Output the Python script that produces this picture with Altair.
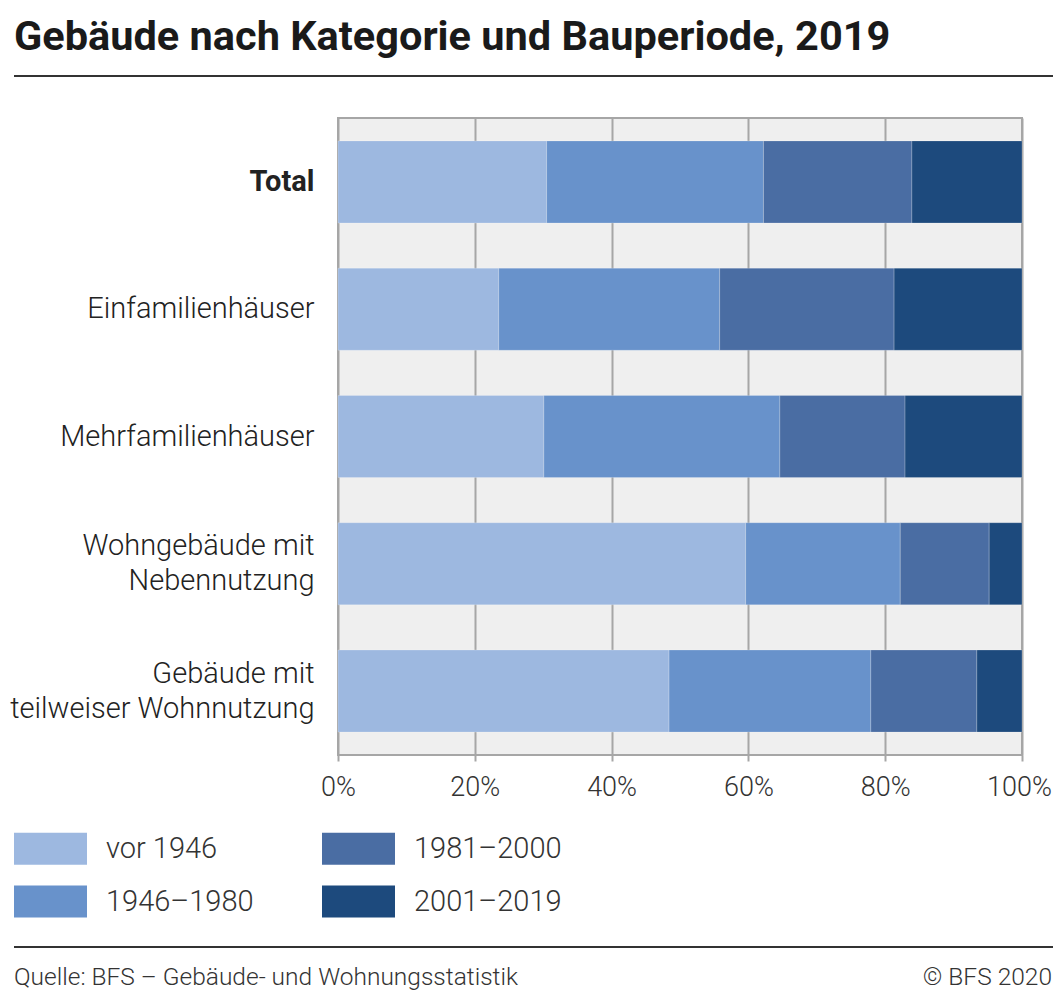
import altair as alt
import pandas as pd

categories = ["Total", "Einfamilienhäuser", "Mehrfamilienhäuser",
              "Wohngebäude mit|Nebennutzung", "Gebäude mit|teilweiser Wohnnutzung"]
periods = ["vor 1946", "1946–1980", "1981–2000", "2001–2019"]
vor_1946 = [30.5, 23.5, 30.1, 59.6, 48.4]
p1946_1980 = [31.7, 32.3, 34.5, 22.6, 29.5]
p1981_2000 = [21.7, 25.5, 18.3, 13.0, 15.5]
p2001_2019 = [16.1, 18.7, 17.1, 4.8, 6.6]
colors = ["#9db8e0", "#6892cb", "#4a6da3", "#1d4a7d"]
x_ticks = [0, 20, 40, 60, 80, 100]
title_text = "Gebäude nach Kategorie und Bauperiode, 2019"
source_text = "Quelle: BFS – Gebäude- und Wohnungsstatistik"
copyright_text = "© BFS 2020"

series = [vor_1946, p1946_1980, p1981_2000, p2001_2019]
rows = []
for pi, (p, vals) in enumerate(zip(periods, series)):
    for c, v in zip(categories, vals):
        rows.append({"Kategorie": c, "Periode": p, "Wert": v, "ord": pi})
df = pd.DataFrame(rows)

FONT = "Roboto"
TXT = "#333333"

bars = alt.Chart(df).mark_bar(stroke="#ffffff", strokeWidth=0.6, strokeOpacity=0.35).encode(
    x=alt.X("Wert:Q", stack="zero",
            scale=alt.Scale(domain=[0, 100], nice=False),
            axis=alt.Axis(values=x_ticks, labelExpr="datum.value + '%'", title=None,
                          grid=True, gridColor="#a6a6a6", gridWidth=2,
                          tickColor="#a6a6a6", tickWidth=2, tickSize=6,
                          domain=False, labelFontSize=27, labelColor=TXT,
                          labelFont=FONT, labelFontWeight=300, labelPadding=13,
                          labelOffset={"condition": {"test": "datum.value === 100", "value": -3},
                                       "value": 0},
                          labelFlush=False)),
    y=alt.Y("Kategorie:N", sort=categories,
            scale=alt.Scale(paddingInner=0.355, paddingOuter=0.18),
            axis=alt.Axis(title=None, ticks=False, domain=False, grid=False,
                          labelExpr="split(datum.label, '|')",
                          labelFontSize=29, labelPadding=24, labelLineHeight=35,
                          labelFont=FONT, labelColor="#222222", labelLimit=0,
                          labelOffset={"condition": {"test": "indexof(datum.value, '|') >= 0", "value": -17.5},
                                       "value": 0},
                          labelFontWeight={"condition": {"test": "datum.value === 'Total'", "value": "bold"},
                                           "value": 300})),
    color=alt.Color("Periode:N",
                    scale=alt.Scale(domain=periods, range=colors),
                    legend=alt.Legend(orient="none", legendX=-324, legendY=694, title=None,
                                      columns=2, symbolType="M-1,-0.438H1V0.438H-1Z",
                                      symbolSize=5329, labelFontSize=29, labelOffset=19,
                                      rowPadding=-9, columnPadding=68, labelFont=FONT,
                                      labelFontWeight=300, labelColor=TXT,
                                      symbolStrokeWidth=0, symbolOpacity=1)),
    order=alt.Order("ord:Q", sort="ascending"),
)

title_df = pd.DataFrame({"t": [title_text]})
title = alt.Chart(title_df).mark_text(align="left", baseline="alphabetic", font=FONT,
                                      fontSize=41.5, fontWeight="bold", color="#1a1a1a").encode(
    x=alt.value(-324), y=alt.value(-68), text="t:N")

rule_df = pd.DataFrame({"r": [0]})
top_rule = alt.Chart(rule_df).mark_rule(color="#333333", strokeWidth=2).encode(
    x=alt.value(-324), x2=alt.value(715), y=alt.value(-42))
bottom_rule = alt.Chart(rule_df).mark_rule(color="#333333", strokeWidth=2).encode(
    x=alt.value(-324), x2=alt.value(715), y=alt.value(829))

src_df = pd.DataFrame({"t": [source_text]})
source = alt.Chart(src_df).mark_text(align="left", baseline="alphabetic", font=FONT,
                                     fontSize=24.5, fontWeight=300, color=TXT).encode(
    x=alt.value(-324), y=alt.value(867), text="t:N")

cr_df = pd.DataFrame({"t": [copyright_text]})
copyright_ = alt.Chart(cr_df).mark_text(align="right", baseline="alphabetic", font=FONT,
                                        fontSize=24.5, fontWeight=300, color=TXT).encode(
    x=alt.value(714), y=alt.value(867), text="t:N")

chart = alt.layer(bars, title, top_rule, bottom_rule, source, copyright_).properties(
    width=684, height=637,
    autosize=alt.AutoSizeParams(type="none"),
    padding={"left": 330, "top": 110, "right": 31, "bottom": 235},
    background="white",
).configure_view(stroke="#a6a6a6", strokeWidth=2, fill="#efefef")

chart.save("out.html", embed_options={"renderer": "svg", "actions": False})
